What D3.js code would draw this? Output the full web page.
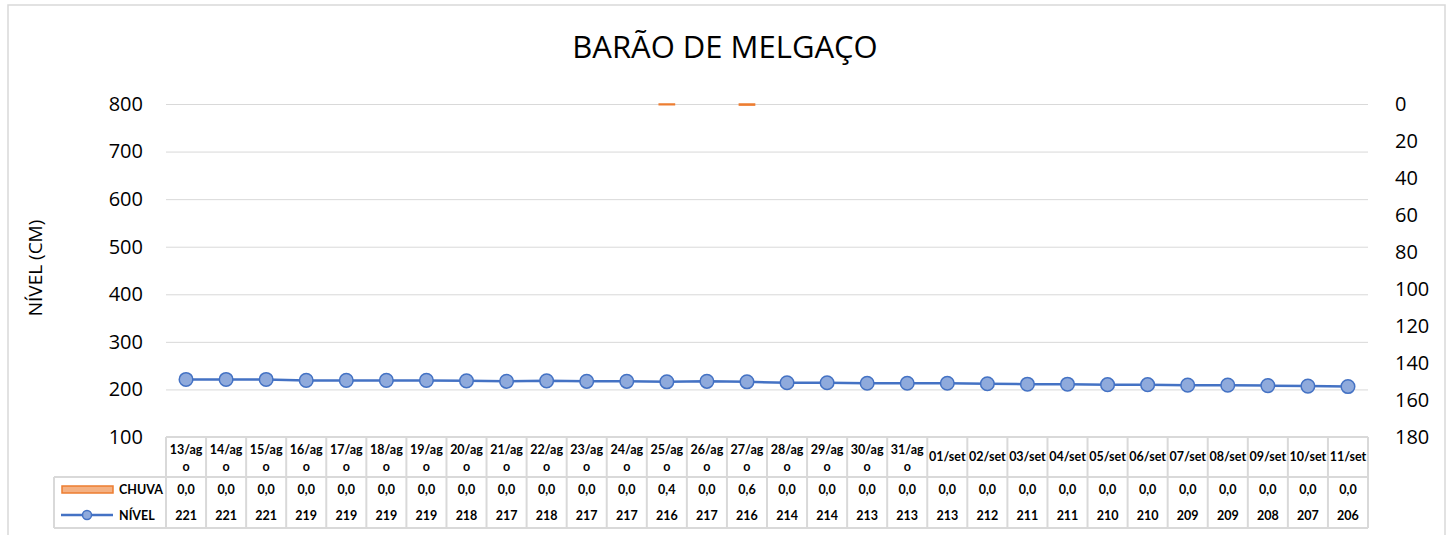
<!DOCTYPE html>
<html>
<head>
<meta charset="utf-8">
<script src="https://cdn.jsdelivr.net/npm/d3@7"></script>
<style>
	body { margin: 0; background: #fff; }
	text { font-family: 'Open Sans', sans-serif; fill: #000; }
	.tbl text { font-family: Lato, sans-serif; font-weight: bold; font-size: 12.5px; }
</style>
</head>
<body>
<script>

// Dados
const dates = [ '13/ago', '14/ago', '15/ago', '16/ago', '17/ago', '18/ago', '19/ago', '20/ago', '21/ago', '22/ago',
		'23/ago', '24/ago', '25/ago', '26/ago', '27/ago', '28/ago', '29/ago', '30/ago', '31/ago',
		'01/set', '02/set', '03/set', '04/set', '05/set', '06/set', '07/set', '08/set', '09/set', '10/set', '11/set' ],
	chuva = [ 0, 0, 0, 0, 0, 0, 0, 0, 0, 0, 0, 0, 0.4, 0, 0.6, 0, 0, 0, 0,
		0, 0, 0, 0, 0, 0, 0, 0, 0, 0, 0 ],
	nivel = [ 221, 221, 221, 219, 219, 219, 219, 218, 217, 218, 217, 217, 216, 217, 216, 214, 214, 213, 213,
		213, 212, 211, 211, 210, 210, 209, 209, 208, 207, 206 ],
	leftTicks = [ 100, 200, 300, 400, 500, 600, 700, 800 ],
	rightTicks = [ 0, 20, 40, 60, 80, 100, 120, 140, 160, 180 ],
	title = 'BARÃO DE MELGAÇO',
	yTitle = 'NÍVEL (CM)'

const width = 1451,
	height = 535,
	plot = { left: 166, right: 1368, top: 104, bottom: 437 },
	grey = '#d9d9d9',
	orange = '#ed7d31',
	blue = '#4472c4'

const svg = d3.select( 'body' )
	.append( 'svg' )
	.attr( 'width', width )
	.attr( 'height', height )

// Moldura do gráfico
svg.append( 'rect' )
	.attr( 'x', 8 )
	.attr( 'y', 5 )
	.attr( 'width', 1437 )
	.attr( 'height', 540 )
	.attr( 'fill', 'none' )
	.attr( 'stroke', grey )
	.attr( 'stroke-width', 1.5 )

const x = d3.scaleBand()
		.domain( dates )
		.range( [ plot.left, plot.right ] ),

	y = d3.scaleLinear()
		.domain( [ 100, 800 ] )
		.range( [ plot.bottom, plot.top ] ),

	y2 = d3.scaleLinear() // eixo da chuva invertido
		.domain( [ 0, 180 ] )
		.range( [ plot.top, plot.bottom ] ),

	cx = d => x( d ) + x.bandwidth() / 2

// Linhas de grade + eixo esquerdo
const leftAxis = svg.append( 'g' )
	.attr( 'transform', `translate( ${ plot.left }, 0 )` )
	.call( d3.axisLeft( y )
		.tickValues( leftTicks )
		.tickSize( -( plot.right - plot.left ) )
		.tickPadding( 23 ) )

leftAxis.select( '.domain' ).remove()
leftAxis.selectAll( '.tick line' ).attr( 'stroke', grey )
leftAxis.selectAll( '.tick text' )
	.style( 'font-size', '20px' )
	.style( 'font-family', 'Open Sans' )

const rightAxis = svg.append( 'g' )
	.attr( 'transform', `translate( ${ plot.right }, 0 )` )
	.call( d3.axisRight( y2 )
		.tickValues( rightTicks )
		.tickSize( 0 )
		.tickPadding( 27 ) )

rightAxis.select( '.domain' ).remove()
rightAxis.selectAll( '.tick text' )
	.style( 'font-size', '20px' )
	.style( 'font-family', 'Open Sans' )

// Título
svg.append( 'text' )
	.attr( 'x', 725 )
	.attr( 'y', 58 )
	.attr( 'text-anchor', 'middle' )
	.style( 'font-size', '31px' )
	.text( title )

svg.append( 'text' )
	.attr( 'transform', `translate( 42, 268 ) rotate( -90 )` )
	.attr( 'text-anchor', 'middle' )
	.style( 'font-size', '19px' )
	.text( yTitle )

// Barras de chuva (penduradas no topo)
const barW = x.bandwidth() * 0.38

svg.selectAll( '.bar' )
	.data( dates.map( ( d, i ) => ( { d, v: chuva[ i ] } ) ).filter( e => e.v > 0 ) )
	.enter()
	.append( 'rect' )
	.attr( 'class', 'bar' )
	.attr( 'x', e => cx( e.d ) - barW / 2 )
	.attr( 'y', y2( 0 ) )
	.attr( 'width', barW )
	.attr( 'height', e => y2( e.v ) - y2( 0 ) )
	.attr( 'fill', orange )
	.attr( 'stroke', orange )
	.attr( 'stroke-width', 1.5 )

// Linha do nível
svg.append( 'path' )
	.datum( nivel )
	.attr( 'fill', 'none' )
	.attr( 'stroke', blue )
	.attr( 'stroke-width', 2.5 )
	.attr( 'd', d3.line()
		.x( ( v, i ) => cx( dates[ i ] ) )
		.y( v => y( v ) ) )

svg.selectAll( '.dot' )
	.data( nivel )
	.enter()
	.append( 'circle' )
	.attr( 'class', 'dot' )
	.attr( 'cx', ( v, i ) => cx( dates[ i ] ) )
	.attr( 'cy', v => y( v ) )
	.attr( 'r', 6.8 )
	.attr( 'fill', '#8faadc' )
	.attr( 'stroke', blue )
	.attr( 'stroke-width', 1.5 )

// Tabela de dados
const tbl = svg.append( 'g' ).attr( 'class', 'tbl' ),
	rowTop = plot.bottom,
	rowMid = 477,
	rowEnd = 528,
	legendLeft = 54

tbl.append( 'line' )
	.attr( 'x1', plot.left ).attr( 'x2', plot.right )
	.attr( 'y1', rowTop ).attr( 'y2', rowTop )

tbl.append( 'line' )
	.attr( 'x1', legendLeft ).attr( 'x2', plot.right )
	.attr( 'y1', rowMid ).attr( 'y2', rowMid )

tbl.append( 'line' )
	.attr( 'x1', legendLeft ).attr( 'x2', plot.right )
	.attr( 'y1', rowEnd ).attr( 'y2', rowEnd )

tbl.append( 'line' )
	.attr( 'x1', legendLeft ).attr( 'x2', legendLeft )
	.attr( 'y1', rowMid ).attr( 'y2', rowEnd )

tbl.selectAll( '.col' )
	.data( dates.concat( [ null ] ) )
	.enter()
	.append( 'line' )
	.attr( 'class', 'col' )
	.attr( 'x1', d => d ? x( d ) : plot.right )
	.attr( 'x2', d => d ? x( d ) : plot.right )
	.attr( 'y1', rowTop )
	.attr( 'y2', rowEnd )

tbl.selectAll( 'line' )
	.attr( 'stroke', grey )
	.attr( 'stroke-width', 2 )

// Cabeçalho: 'ago' quebra em duas linhas como no Excel
const head = tbl.selectAll( '.head' )
	.data( dates )
	.enter()
	.append( 'text' )
	.attr( 'class', 'head' )
	.attr( 'text-anchor', 'middle' )

head.each( function( d ) {

	const parts = d.endsWith( 'ago' ) ? [ d.slice( 0, 5 ), d.slice( 5 ) ] : [ d ],
		t = d3.select( this ),
		y0 = parts.length > 1 ? 454 : 461

	parts.forEach( ( p, i ) => {
		t.append( 'tspan' )
			.attr( 'x', cx( d ) )
			.attr( 'y', y0 + i * 17 )
			.text( p )
	})

})

tbl.selectAll( '.vchuva' )
	.data( chuva )
	.enter()
	.append( 'text' )
	.attr( 'x', ( v, i ) => cx( dates[ i ] ) )
	.attr( 'y', 494 )
	.attr( 'text-anchor', 'middle' )
	.text( v => d3.format( '.1f' )( v ).replace( '.', ',' ) )

tbl.selectAll( '.vnivel' )
	.data( nivel )
	.enter()
	.append( 'text' )
	.attr( 'x', ( v, i ) => cx( dates[ i ] ) )
	.attr( 'y', 520 )
	.attr( 'text-anchor', 'middle' )
	.text( v => v )

// Legenda dentro da tabela
tbl.append( 'rect' )
	.attr( 'x', 62 )
	.attr( 'y', 486 )
	.attr( 'width', 51 )
	.attr( 'height', 7 )
	.attr( 'fill', '#f4b183' )
	.attr( 'stroke', orange )
	.attr( 'stroke-width', 1.5 )

tbl.append( 'text' )
	.attr( 'x', 119 )
	.attr( 'y', 494 )
	.text( 'CHUVA' )

tbl.append( 'line' )
	.attr( 'x1', 61 ).attr( 'x2', 113 )
	.attr( 'y1', 515 ).attr( 'y2', 515 )
	.attr( 'stroke', blue )
	.attr( 'stroke-width', 2.5 )

tbl.append( 'circle' )
	.attr( 'cx', 87 )
	.attr( 'cy', 515 )
	.attr( 'r', 4.5 )
	.attr( 'fill', '#8faadc' )
	.attr( 'stroke', blue )
	.attr( 'stroke-width', 1.5 )

tbl.append( 'text' )
	.attr( 'x', 119 )
	.attr( 'y', 520 )
	.text( 'NÍVEL' )

</script>
</body>
</html>
